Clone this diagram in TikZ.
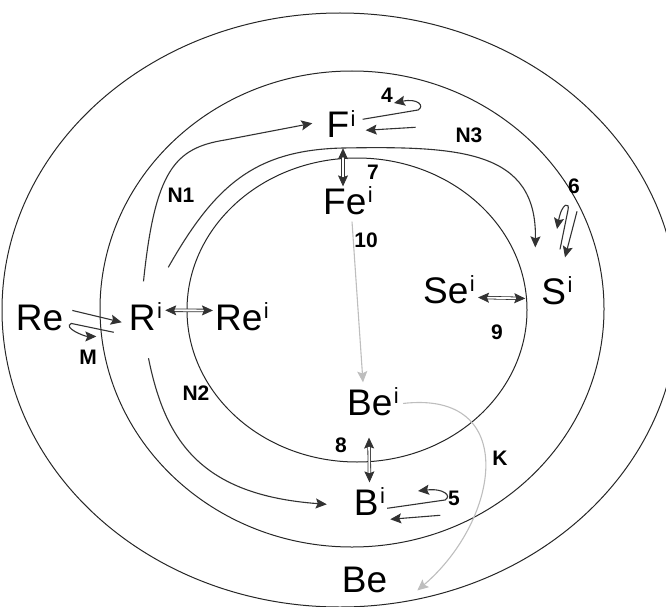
\documentclass[tikz,border=0pt]{standalone}
\usepackage{fontspec}
\setmainfont{Liberation Sans}
\usetikzlibrary{arrows.meta}
\definecolor{inkG}{RGB}{50,50,50}
\definecolor{paleG}{RGB}{190,190,190}
\newcommand{\supi}{\kern1.5pt\raisebox{11.5pt}{\fontsize{22}{22}\selectfont i}}

\begin{document}
\begin{tikzpicture}[
  x=1pt, y=-1pt,
  ring/.style={draw=black!85, line width=1pt},
  state/.style={font=\fontsize{37}{40}\selectfont, inner sep=0pt, anchor=base},
  lab/.style={font=\fontsize{21}{23}\selectfont\bfseries, inner sep=0pt},
  flow/.style={draw=inkG, line width=1.1pt, ->},
  pale/.style={draw=paleG, line width=1.1pt, ->},
  swap/.style={draw=inkG, double=white, double distance=1.8pt, line width=0.8pt, <->},
  >={Stealth[length=11pt, width=10pt, inset=2pt]}]

  \useasboundingbox (0,0) rectangle (666,607);

  % the three rings
  \draw[ring] (340,310) ellipse [x radius=338, y radius=297];
  \draw[ring] (352,309) ellipse [x radius=252, y radius=238];
  \draw[ring] (357,310) ellipse [x radius=170, y radius=152];

  % states
  \node[state] (Re)  at (39.5,330) {Re};
  \node[state] (Ri)  at (145.5,330) {R\supi};
  \node[state] (Rei) at (242,330) {Re\supi};
  \node[state] (Fi)  at (341,138) {F\supi};
  \node[state] (Fei) at (348,214) {Fe\supi};
  \node[state] (Sei) at (449,303) {Se\supi};
  \node[state] (Si)  at (557,304) {S\supi};
  \node[state] (Bei) at (373,415) {Be\supi};
  \node[state] (Bi)  at (369.5,515) {B\supi};
  \node[state] (Be)  at (364.5,592) {Be};

  % labels
  \node[lab] (l4)  at (387,95)  {4};
  \node[lab] (lN3) at (469,135) {N3};
  \node[lab] (l7)  at (373,172) {7};
  \node[lab] (l6)  at (574,186) {6};
  \node[lab] (lN1) at (181,195) {N1};
  \node[lab] (l10) at (366,240) {10};
  \node[lab] (l9)  at (497,332) {9};
  \node[lab] (lM)  at (88,357)  {M};
  \node[lab] (lN2) at (196,393) {N2};
  \node[lab] (l8)  at (341,445) {8};
  \node[lab] (lK)  at (500,458) {K};
  \node[lab] (l5)  at (454,498) {5};

  % Re into R^i, and the M return with its hook
  \draw[flow] ([shift={(9,-7)}]Re.east) -- ([shift={(-7,6)}]Ri.west);
  \draw[flow] ([shift={(-15,16)}]Ri.west) -- ([shift={(8,6)}]Re.east)
    .. controls +(-9,4) and +(-12,0) .. +(25,13);

  % N1, N3, N2 out of R^i
  \draw[flow] ([shift={(-2,-21)}]Ri.north) .. controls (155,170) and (175,148) .. (225,140)
    -- ([shift={(-14,-1)}]Fi.west);
  \draw[flow] ([shift={(6,-35)}]Ri.north east) .. controls (215,185) and (255,150) .. (343,148)
    .. controls (460,146) and (537,150) .. ([shift={(-6,-29)}]Si.north west);
  \draw[flow] ([shift={(3,28)}]Ri.south) .. controls (165,440) and (200,495) .. ([shift={(-27,3)}]Bi.west);

  % self loops 4, 5, 6
  \draw[flow] ([shift={(7,-5)}]Fi.east) -- (418,110) .. controls (425,106) and (418,98) .. (394,103);
  \draw[flow] ([shift={(60,3)}]Fi.east) -- ([shift={(10,6)}]Fi.east);
  \draw[flow] ([shift={(2,7)}]Bi.east) -- (445,500) .. controls (452,496) and (444,488) .. (418,491);
  \draw[flow] ([shift={(55,14)}]Bi.east) -- ([shift={(5,18)}]Bi.east);
  \draw[flow] ([shift={(3,-27)}]Si.north) -- (568,210) .. controls (570,202) and (562,202) .. (557,229);
  \draw[flow] ([shift={(20,-65)}]Si.north) -- ([shift={(8,-19)}]Si.north);

  % exchanges across the inner ring
  \draw[swap] ([shift={(3,-6)}]Ri.east) -- ([shift={(-2,-6)}]Rei.west);
  \draw[swap] ([shift={(2,10)}]Fi.south) -- ([shift={(-5,0)}]Fei.north);
  \draw[swap] ([shift={(3,8)}]Sei.east) -- ([shift={(-16,8)}]Si.west);
  \draw[swap] ([shift={(-4,22)}]Bei.south) -- ([shift={(0,-5)}]Bi.north);

  % pale paths 10 and K
  \draw[pale] ([shift={(4,7)}]Fei.south) -- ([shift={(-10,-5)}]Bei.north);
  \draw[pale] ([shift={(4,2)}]Bei.east) .. controls (520,390) and (500,520) .. ([shift={(30,11)}]Be.east);
\end{tikzpicture}
\end{document}
